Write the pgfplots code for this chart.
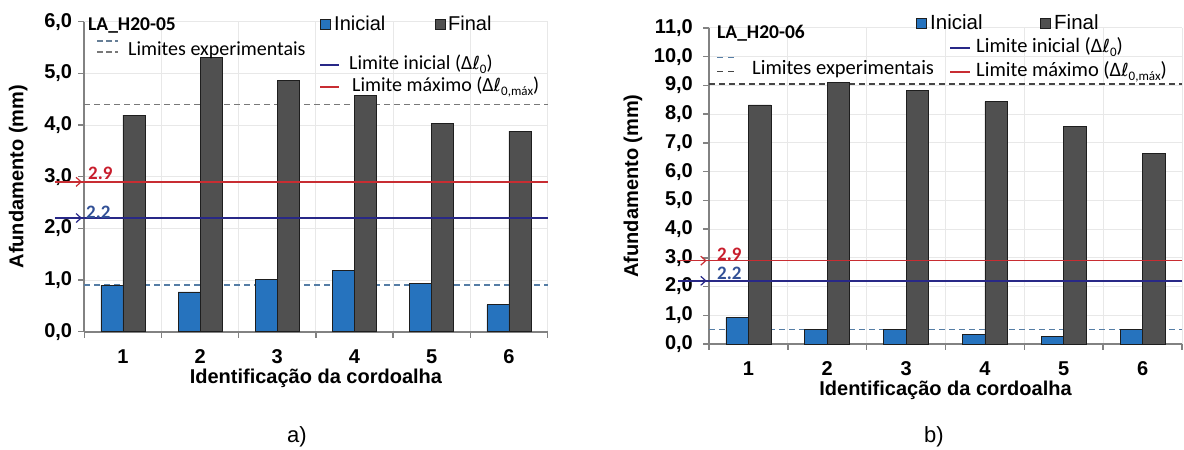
\documentclass[border=0pt]{standalone}
\usepackage{fontspec}
\setmainfont{Liberation Sans}
\newfontfamily\calfont{Carlito}
\newfontfamily\dvfont{DejaVu Sans}
\usepackage{pgfplots}
\usepackage{pgfplotstable}
\pgfplotsset{compat=1.18}
\usetikzlibrary{arrows.meta}

\definecolor{barblue}{RGB}{38,115,190}
\definecolor{bargrey}{RGB}{80,80,80}
\definecolor{edge}{RGB}{30,30,30}
\definecolor{limred}{RGB}{200,45,50}
\definecolor{limnavy}{RGB}{40,40,135}
\definecolor{expblue}{RGB}{85,125,165}
\definecolor{expgrey}{RGB}{120,120,120}
\definecolor{expdark}{RGB}{70,70,70}
\definecolor{axgrey}{RGB}{130,130,130}
\definecolor{gridgrey}{RGB}{232,232,232}
\definecolor{lblred}{RGB}{200,30,45}
\definecolor{lblblue}{RGB}{50,80,150}

% LA_H20-05: initial and final set per strand (mm)
\pgfplotstableread{
id ini fin
1 0.90 4.19
2 0.77 5.30
3 1.01 4.86
4 1.19 4.58
5 0.94 4.03
6 0.52 3.88
}\tabA
% LA_H20-06
\pgfplotstableread{
id ini fin
1 0.92 8.32
2 0.51 9.11
3 0.52 8.82
4 0.34 8.44
5 0.25 7.56
6 0.52 6.63
}\tabB

\newcommand{\fs}[1]{\fontsize{#1bp}{#1bp}\selectfont}
\newcommand{\dl}[1]{Δ{\dvfont\fs{18}ℓ}\raisebox{-4bp}{\fs{13}#1}}

\pgfplotsset{
  panel/.style={
    scale only axis, clip=false,
    xmin=0.5, xmax=6.5, ymin=0,
    axis x line*=bottom, axis y line*=left,
    axis line style={axgrey, line width=2bp},
    xtick={0.5,1.5,...,6.5}, xticklabels={,,,,,,},
    extra x ticks={1,2,3,4,5,6},
    extra x tick labels={1,2,3,4,5,6},
    extra x tick style={major tick length=0pt, grid=none},
    xmajorgrids, ymajorgrids,
    major grid style={gridgrey, line width=1bp},
    tick align=outside, major tick length=6bp,
    tick style={axgrey, line width=1.5bp},
    tick label style={font=\fs{20}\bfseries},
    yticklabel style={inner sep=0pt, anchor=east,
      /pgf/number format/fixed, /pgf/number format/fixed zerofill,
      /pgf/number format/precision=1, /pgf/number format/use comma,
      /pgf/number format/assume math mode=true},
    xticklabel style={inner sep=0pt, anchor=center, yshift=-25bp},
    xlabel={Identificação da cordoalha},
    ylabel={Afundamento (mm)},
  },
}

\begin{document}
\begin{tikzpicture}[x=1bp,y=1bp]
\path[use as bounding box] (0,0) rectangle (1184,450);

%% ---------------- panel a) ----------------
\begin{axis}[panel,
  at={(84.3bp,118.3bp)}, anchor=south west,
  width=463.2bp, height=310bp,
  ymax=6, ytick={0,1,...,6},
  yticklabel style={xshift=-6bp},
  every axis y label/.style={at={(axis description cs:-0.1425,0.5)}, rotate=90, anchor=center, font=\fs{20}\bfseries},
  every axis x label/.style={at={(axis description cs:0.5,0)}, anchor=center, yshift=-47bp, font=\fs{20}\bfseries},
]
\addplot[expgrey, line width=1.5bp, dash pattern=on 6bp off 4bp, mark=none] coordinates {(0.5,4.4) (6.5,4.4)};
\addplot[expblue, line width=1.5bp, dash pattern=on 6bp off 4bp, mark=none] coordinates {(0.5,0.9) (6.5,0.9)};
\addplot[ybar, bar width=22bp, bar shift=-11bp, fill=barblue, draw=edge, line width=0.8bp] table[x=id,y=ini]{\tabA};
\addplot[ybar, bar width=22bp, bar shift=11bp, fill=bargrey, draw=edge, line width=0.8bp] table[x=id,y=fin]{\tabA};
\addplot[limred, line width=1.8bp, mark=none] coordinates {(0.12,2.9) (6.5,2.9)};
\addplot[limnavy, line width=1.8bp, mark=none] coordinates {(0.12,2.2) (6.5,2.2)};
\addplot[limred, line width=1.2bp, mark=none, -{Straight Barb[length=5bp,width=9bp]}] coordinates {(0.12,2.9) (0.47,2.9)};
\addplot[limnavy, line width=1.2bp, mark=none, -{Straight Barb[length=5bp,width=9bp]}] coordinates {(0.12,2.2) (0.47,2.2)};
\end{axis}

% value labels of the limits
\node[anchor=base west, inner sep=0pt, text=lblred] at (88,450-179.5) {\calfont\fs{19}\bfseries 2.9};
\node[anchor=base west, inner sep=0pt, text=lblblue] at (86,450-219) {\calfont\fs{19}\bfseries 2.2};
% title and legend
\node[anchor=base west, inner sep=0pt] at (88,450-31) {\calfont\fs{19.5}\bfseries LA\_H20-05};
\draw[expblue!60!gray, line width=1.2bp, dash pattern=on 6bp off 3bp] (97,450-41) -- (118,450-41);
\draw[expgrey, line width=1.2bp, dash pattern=on 6bp off 3bp] (97,450-52) -- (118,450-52);
\node[anchor=base west, inner sep=0pt] at (128,450-55.5) {\calfont\fs{20}Limites experimentais};
\fill[barblue, draw=edge, line width=0.7bp] (320,450-29) rectangle (330,450-19);
\node[anchor=base west, inner sep=0pt] at (334,450-31) {\fs{20}Inicial};
\fill[bargrey, draw=edge, line width=0.7bp] (435,450-29) rectangle (445,450-19);
\node[anchor=base west, inner sep=0pt] at (448,450-31) {\fs{20}Final};
\draw[limnavy, line width=2bp] (320,450-65) -- (339,450-65);
\node[anchor=base west, inner sep=0pt] at (349,450-70) {\calfont\fs{20}Limite inicial (\dl{0})};
\draw[limred, line width=2bp] (320,450-87) -- (339,450-87);
\node[anchor=base west, inner sep=0pt] at (352,450-92) {\calfont\fs{20}Limite máximo (\dl{0,máx})};
\node[anchor=center, inner sep=0pt] at (297,450-437) {\fs{22}a)};

%% ---------------- panel b) ----------------
\begin{axis}[panel,
  at={(709bp,106bp)}, anchor=south west,
  width=473bp, height=316bp,
  ymax=11, ytick={0,1,...,11},
  yticklabel style={xshift=-10bp},
  every axis y label/.style={at={(axis description cs:-0.1607,0.5)}, rotate=90, anchor=center, font=\fs{20}\bfseries},
  every axis x label/.style={at={(axis description cs:0.5,0)}, anchor=center, yshift=-46bp, font=\fs{20}\bfseries},
]
\addplot[expdark, line width=1.5bp, dash pattern=on 6bp off 4bp, mark=none] coordinates {(0.5,9.05) (6.5,9.05)};
\addplot[expblue, line width=1.5bp, dash pattern=on 6bp off 4bp, mark=none] coordinates {(0.5,0.51) (6.5,0.51)};
\addplot[ybar, bar width=22.5bp, bar shift=-11.25bp, fill=barblue, draw=edge, line width=0.8bp] table[x=id,y=ini]{\tabB};
\addplot[ybar, bar width=22.5bp, bar shift=11.25bp, fill=bargrey, draw=edge, line width=0.8bp] table[x=id,y=fin]{\tabB};
\addplot[limred, line width=1.5bp, mark=none] coordinates {(0.11,2.9) (6.5,2.9)};
\addplot[limnavy, line width=1.5bp, mark=none] coordinates {(0.11,2.2) (6.5,2.2)};
\addplot[limred, line width=1.2bp, mark=none, -{Straight Barb[length=5bp,width=9bp]}] coordinates {(0.11,2.9) (0.47,2.9)};
\addplot[limnavy, line width=1.2bp, mark=none, -{Straight Barb[length=5bp,width=9bp]}] coordinates {(0.11,2.2) (0.47,2.2)};
\end{axis}

\node[anchor=base west, inner sep=0pt, text=lblred] at (717,450-260.5) {\calfont\fs{19}\bfseries 2.9};
\node[anchor=base west, inner sep=0pt, text=lblblue] at (717,450-279.5) {\calfont\fs{19}\bfseries 2.2};
\node[anchor=base west, inner sep=0pt] at (717,450-38.5) {\calfont\fs{19.5}\bfseries LA\_H20-06};
\draw[expblue, line width=1.5bp, dash pattern=on 6bp off 5bp] (717,450-57.7) -- (735,450-57.7);
\draw[expdark, line width=1.5bp, dash pattern=on 6bp off 5bp] (717,450-71.7) -- (735,450-71.7);
\node[anchor=base west, inner sep=0pt] at (752,450-74.5) {\calfont\fs{20.5}Limites experimentais};
\fill[barblue, draw=edge, line width=0.7bp] (916,450-28) rectangle (926,450-18);
\node[anchor=base west, inner sep=0pt] at (930,450-30) {\fs{20.5}Inicial};
\fill[bargrey, draw=edge, line width=0.7bp] (1040,450-28) rectangle (1050,450-18);
\node[anchor=base west, inner sep=0pt] at (1054,450-30) {\fs{20.5}Final};
\draw[limnavy, line width=2bp] (950,450-47.7) -- (970,450-47.7);
\node[anchor=base west, inner sep=0pt] at (976,450-53) {\calfont\fs{20.5}Limite inicial (\dl{0})};
\draw[limred, line width=2bp] (950,450-71.7) -- (970,450-71.7);
\node[anchor=base west, inner sep=0pt] at (976,450-77) {\calfont\fs{20.5}Limite máximo (\dl{0,máx})};
\node[anchor=center, inner sep=0pt] at (934,450-437) {\fs{22}b)};
\end{tikzpicture}
\end{document}
